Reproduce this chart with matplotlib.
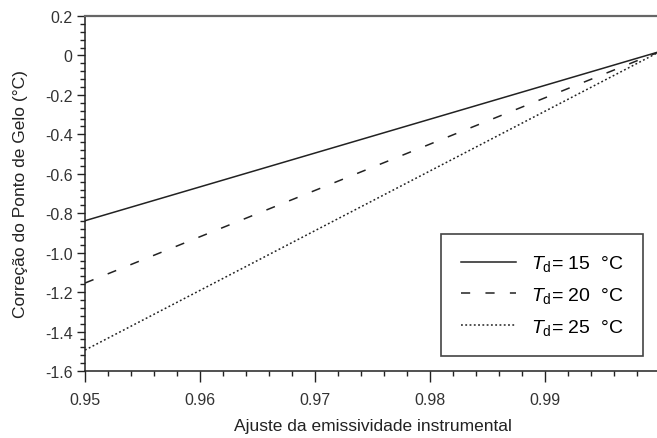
import numpy as np
import matplotlib
matplotlib.use('Agg')
import matplotlib.pyplot as plt
from matplotlib.ticker import MultipleLocator

plt.rcParams['font.family'] = ['Liberation Sans', 'DejaVu Sans']
plt.rcParams['mathtext.fontset'] = 'custom'
plt.rcParams['mathtext.rm'] = 'Liberation Sans'
plt.rcParams['mathtext.it'] = 'Liberation Sans:italic'

# emissivity adjustment (x) and frost point correction (y) at the ends of each line
emissividade = [0.95, 1.00]
corr_td15 = [-0.838, 0.02]
corr_td20 = [-1.154, 0.02]
corr_td25 = [-1.494, 0.02]
rotulos = [r'$T_{\mathrm{d}}$= 15  °C', r'$T_{\mathrm{d}}$= 20  °C', r'$T_{\mathrm{d}}$= 25  °C']

fig = plt.figure(figsize=(6.57, 4.39), dpi=100)
ax = fig.add_axes([85/657, 1-372/439, 575/657, 355/439])

ax.plot(emissividade, corr_td15, color='#222222', lw=1.1, label=rotulos[0])
ax.plot(emissividade, corr_td20, color='#222222', lw=1.1, dashes=(6, 10), label=rotulos[1])
ax.plot(emissividade, corr_td25, color='#222222', lw=1.1, dashes=(1.2, 1.6), label=rotulos[2])

ax.set_xlim(0.95, 1.00)
ax.set_ylim(-1.6, 0.2)
ax.set_xticks([0.95, 0.96, 0.97, 0.98, 0.99])
ax.set_xticklabels(['0.95', '0.96', '0.97', '0.98', '0.99'])
ax.xaxis.set_minor_locator(MultipleLocator(0.002))
yt = np.arange(-1.6, 0.21, 0.2)
ax.set_yticks(yt)
ax.set_yticklabels(['%.1f' % v if abs(v) > 1e-9 else '0' for v in yt])
ax.yaxis.set_minor_locator(MultipleLocator(0.04))

ax.tick_params(which='major', direction='out', width=1, colors='#222222',
               labelsize=11.5, labelcolor='#333333')
ax.tick_params(axis='x', which='major', length=8, pad=7)
ax.tick_params(axis='y', which='major', length=6, pad=3)
ax.tick_params(which='minor', direction='out', length=3.5, width=1, colors='#222222')
ax.spines['right'].set_visible(False)
ax.spines['top'].set_color('#666666')
ax.spines['top'].set_linewidth(1.6)
for s in ['left', 'bottom']:
    ax.spines[s].set_color('#222222')
    ax.spines[s].set_linewidth(1.1)

ax.set_xlabel('Ajuste da emissividade instrumental', fontsize=12.5, color='#222222', labelpad=8)
ax.set_ylabel('Correção do Ponto de Gelo (°C)', fontsize=12.5, color='#222222', labelpad=12)

leg = ax.legend(loc='lower right', bbox_to_anchor=(0.970, 0.042), fontsize=14,
                handlelength=2.85, handletextpad=0.75, labelspacing=0.6, borderpad=1.0,
                borderaxespad=0, fancybox=False, framealpha=1)
leg.get_frame().set_edgecolor('#444444')
leg.get_frame().set_linewidth(1.2)

fig.savefig('out.png', dpi=100)
